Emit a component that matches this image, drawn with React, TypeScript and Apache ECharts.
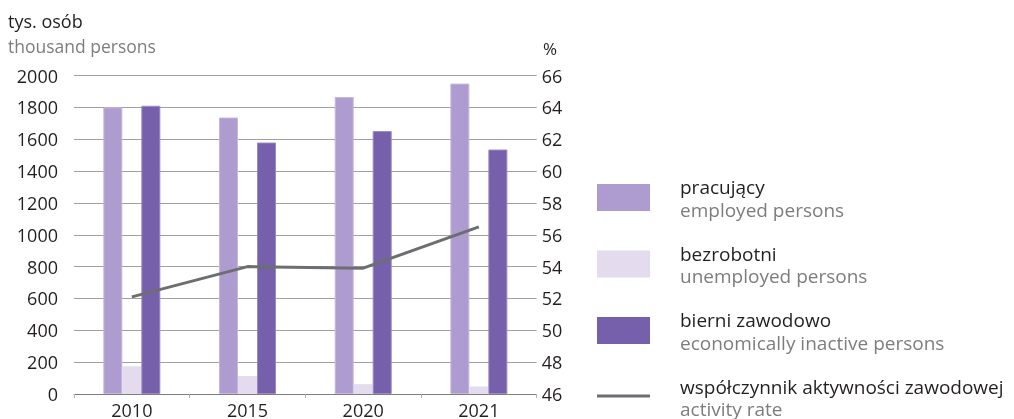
import React, { useEffect, useRef } from "react";
import * as echarts from "echarts";

const years = ["2010", "2015", "2020", "2021"];
const employed = [1800, 1736, 1865, 1949];
const unemployed = [175, 113, 62, 47];
const inactive = [1810, 1579, 1651, 1535];
const activityRate = [52.1, 54.0, 53.9, 56.5];

const namesPL = ["pracujący", "bezrobotni", "bierni zawodowo", "współczynnik aktywności zawodowej"];
const namesEN = ["employed persons", "unemployed persons", "economically inactive persons", "activity rate"];
const colors = ["#ae9bcf", "#e4dcee", "#765fab", "#6d6e71"];

const leftTicks = { min: 0, max: 2000, interval: 200 };
const rightTicks = { min: 46, max: 66, interval: 2 };

const FONT = "'Open Sans', 'Noto Sans', sans-serif";
const DARK = "#231f20";
const GRAY = "#7d7d7d";

export default function App() {
  const ref = useRef<HTMLDivElement>(null);
  useEffect(() => {
    if (!ref.current) return;
    const chart = echarts.init(ref.current, undefined, { renderer: "svg" });
    const legendGraphics: any[] = [];
    const legendTop = 184;
    const step = 66.5;
    namesPL.forEach((n, i) => {
      const cy = legendTop + 13.5 + i * step;
      if (i < 3) {
        legendGraphics.push({
          type: "rect",
          shape: { x: 597, y: cy - 13.5, width: 53, height: 27 },
          style: { fill: colors[i] },
        });
      } else {
        legendGraphics.push({
          type: "line",
          shape: { x1: 597, y1: cy - 1, x2: 650, y2: cy - 1 },
          style: { stroke: colors[i], lineWidth: 3 },
        });
      }
      legendGraphics.push({
        type: "text",
        x: 680,
        y: cy + 1,
        style: {
          text: `{a|${n}}\n{b|${namesEN[i]}}`,
          textVerticalAlign: "middle",
          rich: {
            a: { fill: DARK, fontSize: 19, fontFamily: FONT, lineHeight: 22.5 },
            b: { fill: GRAY, fontSize: 19, fontFamily: FONT, lineHeight: 22.5 },
          },
        },
      });
    });

    chart.setOption({
      animation: false,
      textStyle: { fontFamily: FONT },
      grid: { left: 74, right: 477.3, top: 75.5, bottom: 20.8, containLabel: false },
      xAxis: {
        type: "category",
        data: years,
        boundaryGap: true,
        axisLine: { lineStyle: { color: "#7f7f7f", width: 1 } },
        axisTick: { show: true, length: 4, lineStyle: { color: "#b0b0b0" } },
        axisLabel: { color: DARK, fontSize: 18, margin: 7, fontFamily: FONT },
      },
      yAxis: [
        {
          type: "value",
          ...leftTicks,
          axisLine: { show: false },
          axisTick: { show: false },
          splitLine: { lineStyle: { color: "#a0a0a0", width: 1 } },
          axisLabel: {
            color: DARK,
            fontSize: 18,
            margin: 16,
            fontFamily: FONT,
            formatter: (v: number) => String(v),
          },
        },
        {
          type: "value",
          position: "right",
          ...rightTicks,
          axisLine: { show: false },
          axisTick: { show: false },
          splitLine: { show: false },
          axisLabel: {
            color: DARK,
            fontSize: 18,
            margin: 5,
            fontFamily: FONT,
            formatter: (v: number) => String(v),
          },
        },
      ],
      series: [
        {
          name: namesPL[0],
          type: "bar",
          data: employed,
          barWidth: 19,
          barGap: "0%",
          itemStyle: { color: colors[0], borderColor: "#c5b8df", borderWidth: 1 },
        },
        {
          name: namesPL[1],
          type: "bar",
          data: unemployed,
          barWidth: 19,
          barGap: "0%",
          itemStyle: { color: colors[1] },
        },
        {
          name: namesPL[2],
          type: "bar",
          data: inactive,
          barWidth: 19,
          barGap: "0%",
          itemStyle: { color: colors[2], borderColor: "#9a88c4", borderWidth: 1 },
        },
        {
          name: namesPL[3],
          type: "line",
          yAxisIndex: 1,
          data: activityRate,
          symbol: "none",
          lineStyle: { color: colors[3], width: 3 },
          z: 5,
        },
      ],
      graphic: [
        {
          type: "text",
          x: 8,
          y: 33.5,
          style: {
            text: "{a|tys. osób}\n{b|thousand persons}",
            textVerticalAlign: "middle",
            rich: {
              a: { fill: DARK, fontSize: 18, fontFamily: FONT, lineHeight: 25 },
              b: { fill: GRAY, fontSize: 17.5, fontFamily: FONT, lineHeight: 25 },
            },
          },
        },
        {
          type: "text",
          x: 543,
          y: 48,
          style: { text: "%", fill: DARK, font: `17px ${FONT}`, textVerticalAlign: "middle" },
        },
        ...legendGraphics,
      ],
    });
    return () => chart.dispose();
  }, []);
  return (
    <div
      ref={ref}
      style={{ position: "fixed", left: 0, top: 0, width: 1014, height: 419 }}
    />
  );
}
